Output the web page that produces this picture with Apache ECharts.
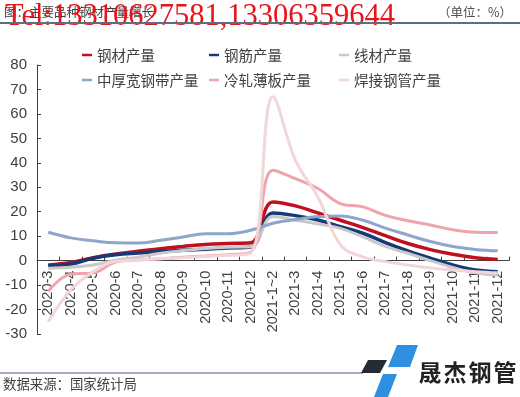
<!DOCTYPE html>
<html>
<head>
<meta charset="utf-8">
<script src="https://cdn.jsdelivr.net/npm/echarts@6/dist/echarts.min.js"></script>
<style>
html,body{margin:0;padding:0;background:#fff;}
#chart{width:520px;height:397px;}
</style>
</head>
<body>
<div id="chart"></div>
<script>
var categories = ['2020-3','2020-4','2020-5','2020-6','2020-7','2020-8','2020-9','2020-10','2020-11','2020-12','2021-1~2','2021-3','2021-4','2021-5','2021-6','2021-7','2021-8','2021-9','2021-10','2021-11','2021-12'];
var steel      = [-1.8,-0.8,1.2,2.7,3.8,4.9,5.8,6.6,7.0,7.3,24.0,22.4,19.5,16.5,13.5,10.2,7.0,4.5,2.6,1.2,0.5];
var rebar      = [-2.1,-1.4,1.0,2.4,3.1,3.7,4.2,4.7,5.2,5.6,19.5,18.4,16.6,13.9,11.2,7.4,4.0,1.0,-1.8,-3.8,-4.5];
var wire       = [-3.1,-2.7,-1.8,0.2,1.4,3.0,4.1,5.0,5.5,5.7,18.0,16.5,15.0,13.2,9.7,5.8,3.0,0.0,-2.8,-5.0,-6.0];
var plate      = [11.6,9.3,8.1,7.3,7.2,8.3,9.7,11.0,11.0,12.4,15.3,16.8,18.0,18.3,16.5,13.3,10.5,7.8,5.8,4.6,4.0];
var coldRolled = [-12.5,-5.5,-5.0,-0.6,0.3,0.8,1.4,1.9,2.4,3.4,37.0,33.5,29.5,23.3,22.0,18.5,16.3,14.6,12.6,11.6,11.5];
var weldedPipe = [-25,-12,-4.5,-0.3,0.3,0.8,1.2,1.7,2.2,3.0,67,41,26,6.5,1.5,-0.4,-1.8,-3.0,-3.8,-4.5,-5.0];
var seriesNames = ['钢材产量','钢筋产量','线材产量','中厚宽钢带产量','冷轧薄板产量','焊接钢管产量'];
var yMin = -30, yMax = 80, yInterval = 10;

var colors = ['#c0101e','#163a78','#c9c9c9','#8ea6ca','#f0a2ad','#f1d6da'];
var widths = [3.5,3.5,3,3,3,3];
var dataSets = [steel, rebar, wire, plate, coldRolled, weldedPipe];

var gridTop = 65, gridBottom = 63, H = 397;
var plotH = H - gridTop - gridBottom;
var zeroOffset = -plotH * (0 - yMin) / (yMax - yMin);

var chart = echarts.init(document.getElementById('chart'), null, {renderer:'canvas'});
var labelColor = '#404040';
var cjk = '"Noto Sans CJK SC", "Noto Sans", sans-serif';

function legendCol(left, names){
  return {
    orient:'vertical', left:left, top:47, itemGap:9, padding:0,
    icon:'rect', itemWidth:10, itemHeight:2.5,
    data:names,
    textStyle:{color:labelColor, fontSize:14.5, fontFamily:cjk, lineHeight:16}
  };
}

var option = {
  animation:false,
  color:colors,
  legend:[
    legendCol(82, [seriesNames[0], seriesNames[3]]),
    legendCol(209, [seriesNames[1], seriesNames[4]]),
    legendCol(339, [seriesNames[2], seriesNames[5]])
  ],
  grid:{left:37, right:11, top:gridTop, bottom:gridBottom, containLabel:false, outerBoundsMode:'none'},
  xAxis:{
    type:'category', data:categories, boundaryGap:true, position:'bottom', offset:zeroOffset,
    axisLine:{onZero:false, lineStyle:{color:labelColor, width:1}},
    axisTick:{show:true, inside:true, length:4, lineStyle:{color:labelColor}},
    axisLabel:{rotate:90, interval:0, margin:10, color:labelColor, fontSize:14.5, fontFamily:'"Liberation Sans", Arial, sans-serif'},
    splitLine:{show:false}
  },
  yAxis:{
    type:'value', min:yMin, max:yMax, interval:yInterval,
    axisLine:{show:true, onZero:false, lineStyle:{color:labelColor, width:1}},
    axisTick:{show:true, inside:true, length:4, lineStyle:{color:labelColor}},
    axisLabel:{margin:10, color:labelColor, fontSize:15, fontFamily:'"Liberation Sans", Arial, sans-serif'},
    splitLine:{show:false}
  },
  series: seriesNames.map(function(n,i){
    return {
      name:n, type:'line', data:dataSets[i], smooth:0.4, showSymbol:false, symbol:'none',
      lineStyle:{width:widths[i], color:colors[i]}, itemStyle:{color:colors[i]}
    };
  }),
  graphic:[
    {type:'text', style:{text:'图：主要品种钢材产量增长', x:4, y:12, textVerticalAlign:'middle', fill:'#404040', font:'12.5px ' + cjk}},
    {type:'text', style:{text:'（单位：%）', x:512, y:12, textAlign:'right', textVerticalAlign:'middle', fill:'#505050', font:'12.5px ' + cjk}},
    {type:'text', style:{text:'Tel:13310627581,13306359644', x:5, y:17, textVerticalAlign:'middle', fill:'#e8141c', font:'30.5px "Liberation Serif", "DejaVu Serif", serif'}},
    {type:'line', shape:{x1:0, y1:23, x2:520, y2:23}, style:{stroke:'#5b6f80', lineWidth:2}},
    {type:'line', shape:{x1:0, y1:373, x2:363, y2:373}, style:{stroke:'#8393b6', lineWidth:1.5}},
    {type:'text', style:{text:'数据来源：国家统计局', x:3, y:384, textVerticalAlign:'middle', fill:'#404040', font:'13.4px ' + cjk}},
    {type:'polygon', shape:{points:[[368,360],[387,360],[380,373],[361,373]]}, style:{fill:'#252a33'}},
    {type:'polygon', shape:{points:[[397,345],[418,345],[410,367],[388,367]]}, style:{fill:'#2f8fe0'}},
    {type:'polygon', shape:{points:[[383,374],[397,374],[388,397],[374,397]]}, style:{fill:'#2f8fe0'}},
    {type:'text', style:{text:'晟', x:430, y:372, textAlign:'center', textVerticalAlign:'middle', fill:'#222222', font:'bold 23px ' + cjk}},
    {type:'text', style:{text:'杰', x:455, y:372, textAlign:'center', textVerticalAlign:'middle', fill:'#222222', font:'bold 23px ' + cjk}},
    {type:'text', style:{text:'钢', x:480, y:372, textAlign:'center', textVerticalAlign:'middle', fill:'#222222', font:'bold 23px ' + cjk}},
    {type:'text', style:{text:'管', x:505, y:372, textAlign:'center', textVerticalAlign:'middle', fill:'#222222', font:'bold 23px ' + cjk}}
  ]
};
chart.setOption(option);
</script>
</body>
</html>
